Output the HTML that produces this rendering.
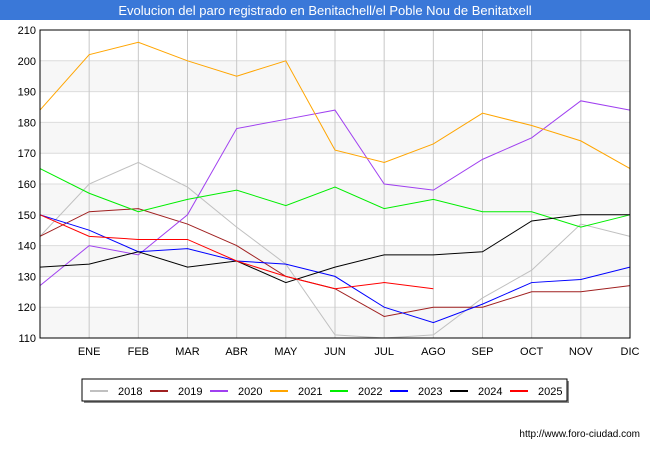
<!DOCTYPE html>
<html><head><meta charset="utf-8"><style>
body{margin:0;background:#fff;font-family:"Liberation Sans",sans-serif;}
</style></head><body>
<svg width="650" height="450" xmlns="http://www.w3.org/2000/svg" font-family="Liberation Sans, sans-serif">
<rect x="0" y="0" width="650" height="20" fill="#3a78d8"/>
<text x="325" y="15" text-anchor="middle" fill="#fff" font-size="13">Evolucion del paro registrado en Benitachell/el Poble Nou de Benitatxell</text>
<g id="plot"></g>
<text x="640" y="437" text-anchor="end" font-size="10" fill="#000">http://www.foro-ciudad.com</text>
</svg>
<script>
const months=["","ENE","FEB","MAR","ABR","MAY","JUN","JUL","AGO","SEP","OCT","NOV","DIC"];
const yTicks=[110,120,130,140,150,160,170,180,190,200,210];
const years=["2018","2019","2020","2021","2022","2023","2024","2025"];
const colors=["#c0c0c0","#a02020","#a040f0","#ffa500","#00ee00","#0000ff","#000000","#ff0000"];
const s2018=[143,160,167,159,146,134,111,110,111,123,132,147,143];
const s2019=[143,151,152,147,140,130,126,117,120,120,125,125,127];
const s2020=[127,140,137,150,178,181,184,160,158,168,175,187,184];
const s2021=[184,202,206,200,195,200,171,167,173,183,179,174,165];
const s2022=[165,157,151,155,158,153,159,152,155,151,151,146,150];
const s2023=[150,145,138,139,135,134,130,120,115,121,128,129,133];
const s2024=[133,134,138,133,135,128,133,137,137,138,148,150,150];
const s2025=[150,143,142,142,135,130,126,128,126];
const series=[s2018,s2019,s2020,s2021,s2022,s2023,s2024,s2025];
const NS="http://www.w3.org/2000/svg";
const g=document.getElementById('plot');
const L=40,R=630,T=30,B=338;
const xs=i=>L+i*(R-L)/12;
const ys=v=>B-(v-110)*(B-T)/100;
function mk(t,a){const e=document.createElementNS(NS,t);for(const k in a)e.setAttribute(k,a[k]);g.appendChild(e);return e;}
for(let i=0;i<yTicks.length-1;i++){
 if(i%2===0){const r=mk('rect',{x:L,y:ys(yTicks[i+1]),width:R-L,height:ys(yTicks[i])-ys(yTicks[i+1]),fill:'#f7f7f7'});
 
 }
}
yTicks.forEach(v=>{
 const l=mk('line',{x1:L,x2:R,y1:ys(v),y2:ys(v),stroke:'#dcdcdc'});
 
 
 const t=mk('text',{x:L-4,y:ys(v)+4,'text-anchor':'end','font-size':11});
 t.textContent=v;
 
 
});
months.forEach((m,i)=>{
 if(i>0){const l=mk('line',{x1:xs(i),x2:xs(i),y1:T,y2:B,stroke:'#c8c8c8'});
 
 }
 const t=mk('text',{x:xs(i),y:B+17,'text-anchor':'middle','font-size':11});
 t.textContent=m;
 
 
});
series.forEach((s,k)=>{
 const p=mk('polyline',{points:s.map((v,i)=>xs(i)+','+ys(v)).join(' '),fill:'none',stroke:colors[k],'stroke-width':1});
 
 
});
const fr=mk('rect',{x:L,y:T,width:R-L,height:B-T,fill:'none',stroke:'#000'});


const sh=mk('rect',{x:84,y:381,width:485,height:22,fill:'#888'});


const lb=mk('rect',{x:82,y:379,width:485,height:22,fill:'#fff',stroke:'#000'});


years.forEach((y,k)=>{
 const x0=90+k*60;
 const l=mk('line',{x1:x0,x2:x0+18,y1:391,y2:391,stroke:colors[k],'stroke-width':2});
 
 
 const t=mk('text',{x:x0+28,y:395,'font-size':11});
 t.textContent=y;
 
 
});
</script>
</body></html>
